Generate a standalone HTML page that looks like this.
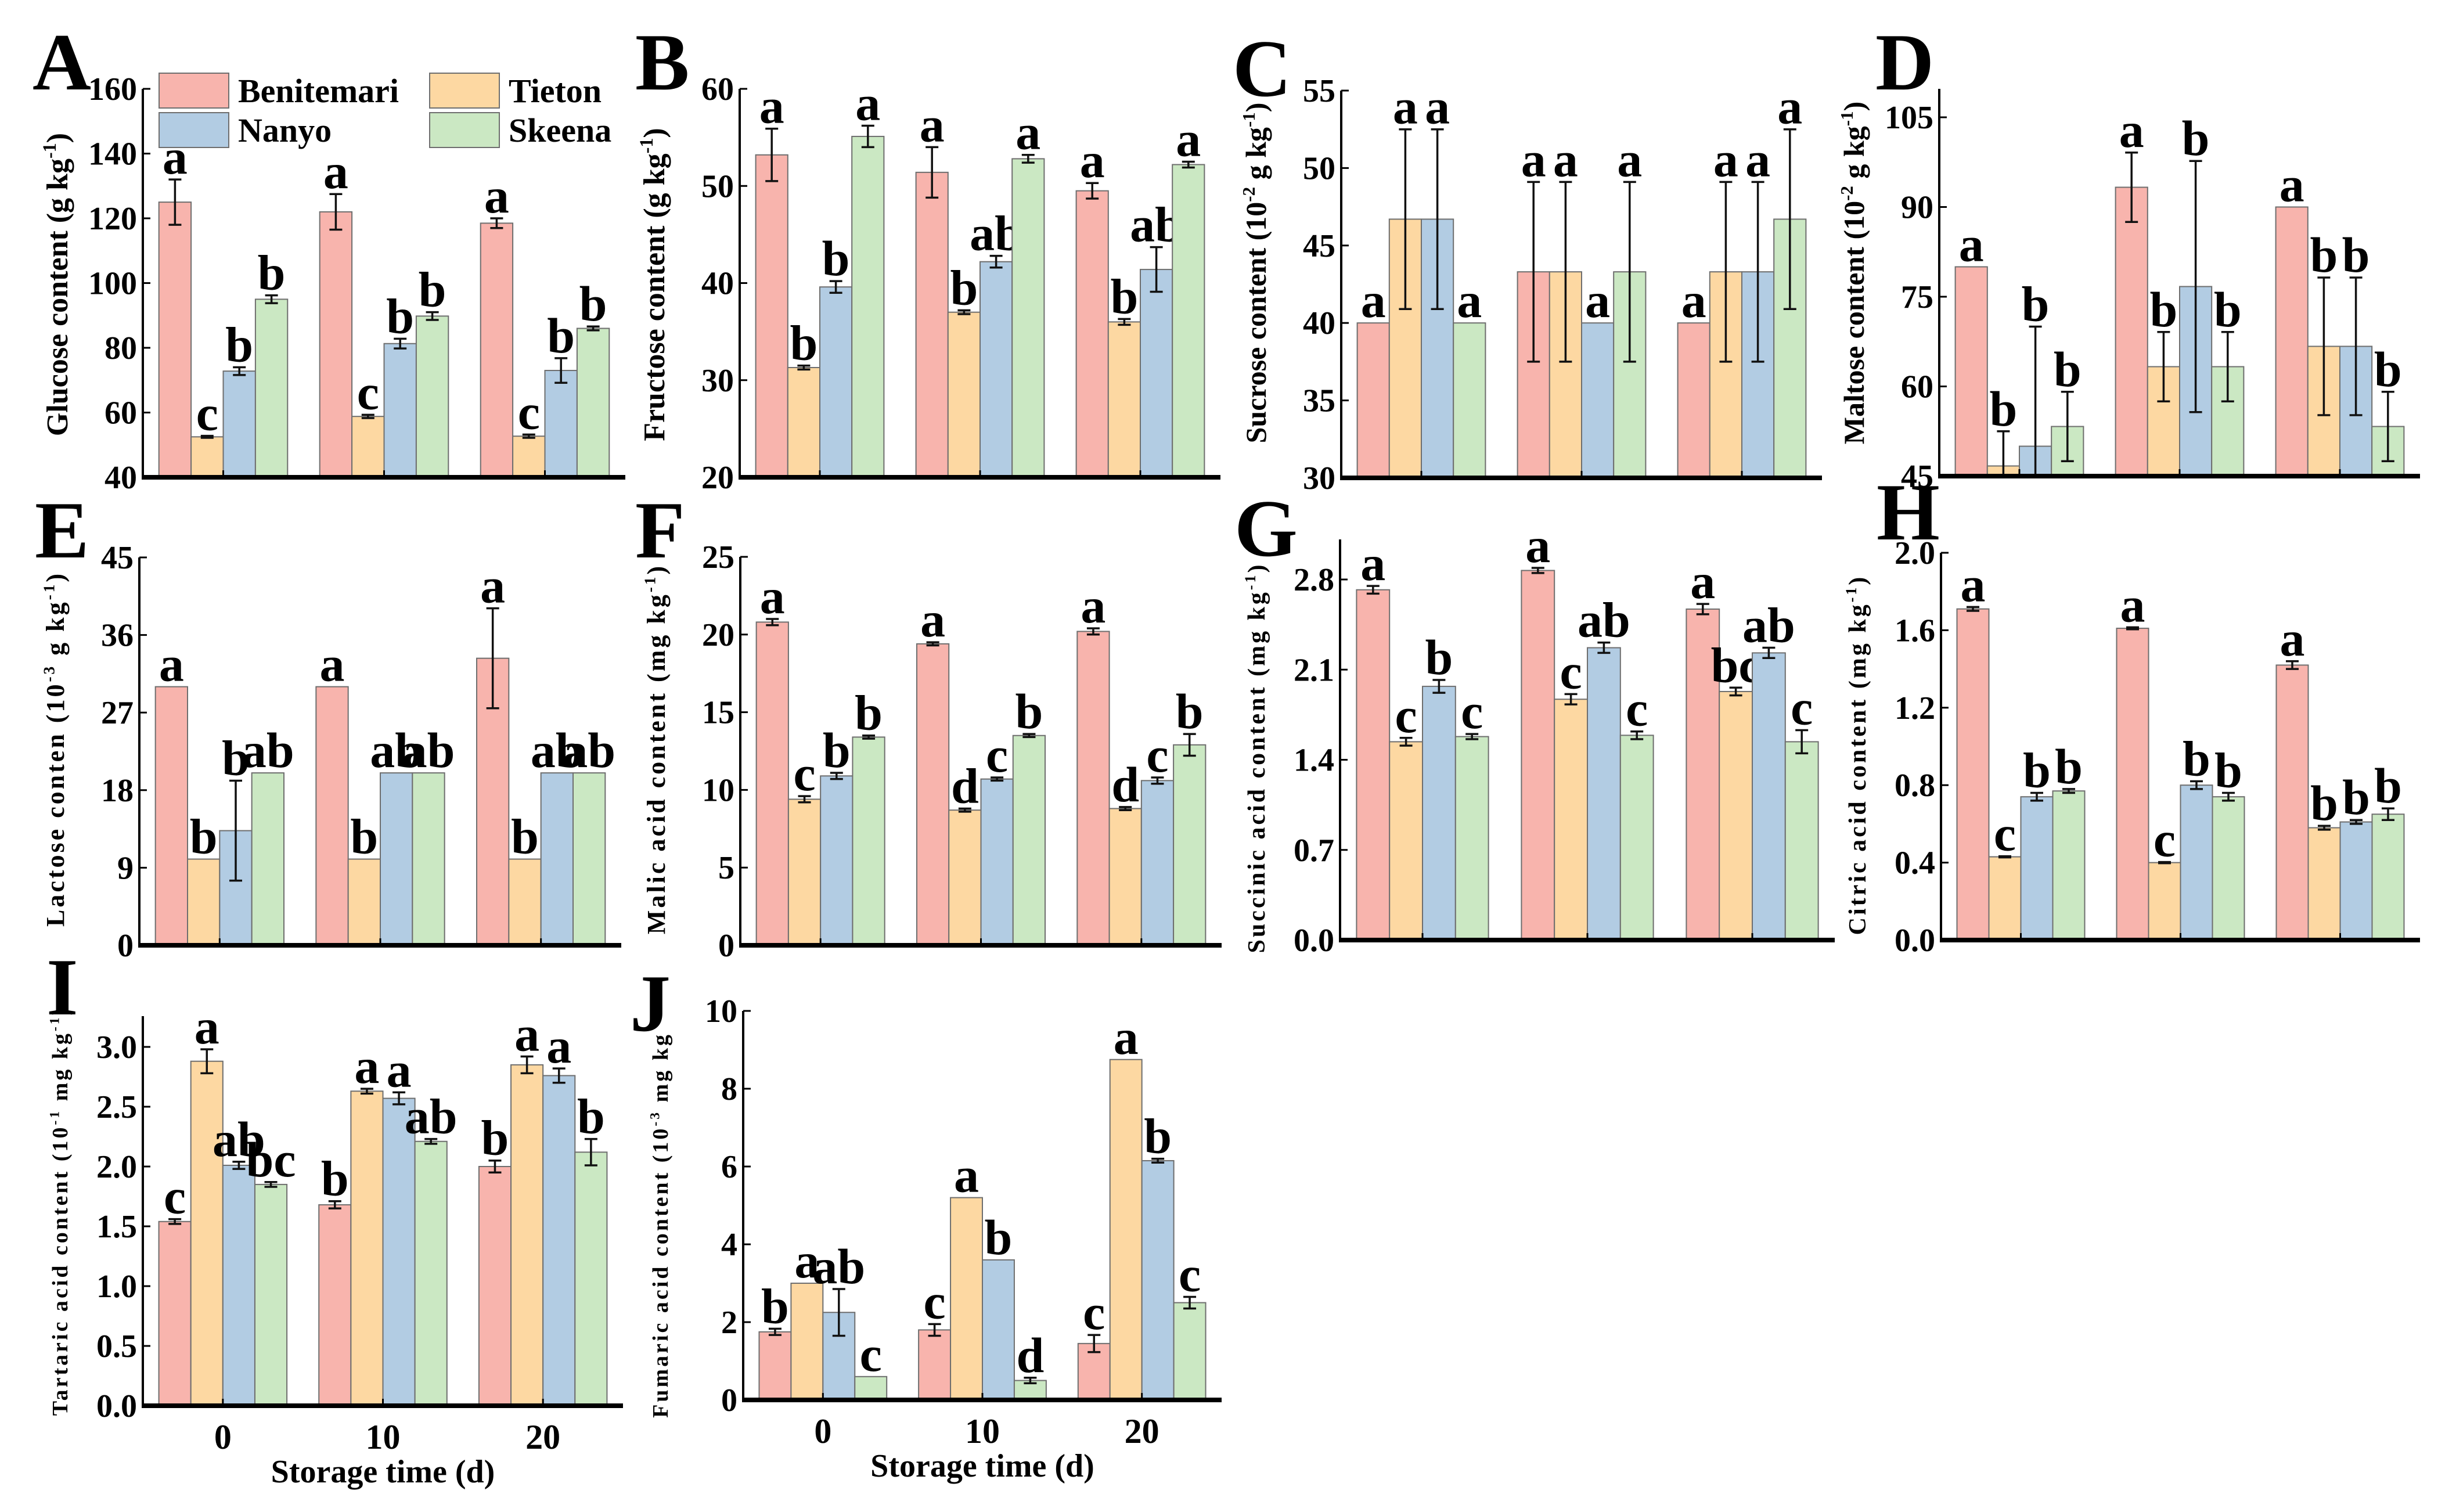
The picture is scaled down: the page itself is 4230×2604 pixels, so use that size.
<!DOCTYPE html>
<html><head><meta charset="utf-8">
<style>
html,body{margin:0;padding:0;background:#fff;}
svg{display:block;font-family:"Liberation Serif","Times New Roman",serif;font-weight:bold;}
</style></head>
<body>
<svg id="fig" width="4230" height="2604" viewBox="0 0 4230 2604" xmlns="http://www.w3.org/2000/svg"></svg>
<script>
// ---- data ----
const days = ['0', '10', '20'];
const cultivars = ['Benitemari', 'Tieton', 'Nanyo', 'Skeena'];

const glucoseMean = [[125,122,118.5],[52.5,58.8,52.7],[72.8,81.3,73],[95,89.8,86]];
const glucoseErr = [[7,5.5,1.5],[0.3,0.5,0.5],[1.2,1.5,3.8],[1.2,1.2,0.6]];
const glucoseSig = [['a','a','a'],['c','c','c'],['b','b','b'],['b','b','b']];

const fructoseMean = [[53.2,51.4,49.5],[31.3,37.0,36.0],[39.6,42.2,41.4],[55.1,52.8,52.2]];
const fructoseErr = [[2.7,2.6,0.8],[0.2,0.2,0.3],[0.6,0.6,2.3],[1.1,0.4,0.3]];
const fructoseSig = [['a','a','a'],['b','b','b'],['b','ab','ab'],['a','a','a']];

const sucroseMean = [[40,43.3,40],[46.7,43.3,43.3],[46.7,40,43.3],[40,43.3,46.7]];
const sucroseErr = [[0,5.8,0],[5.8,5.8,5.8],[5.8,0,5.8],[0,5.8,5.8]];
const sucroseSig = [['a','a','a'],['a','a','a'],['a','a','a'],['a','a','a']];

const maltoseMean = [[80,93.3,90],[46.7,63.3,66.7],[50,76.7,66.7],[53.3,63.3,53.3]];
const maltoseErr = [[0,5.8,0],[5.8,5.8,11.5],[20,21,11.5],[5.8,5.8,5.8]];
const maltoseSig = [['a','a','a'],['b','b','b'],['b','b','b'],['b','b','b']];

const lactoseMean = [[30,30,33.3],[10,10,10],[13.3,20,20],[20,20,20]];
const lactoseErr = [[0,0,5.8],[0,0,0],[5.8,0,0],[0,0,0]];
const lactoseSig = [['a','a','a'],['b','b','b'],['b','ab','ab'],['ab','ab','ab']];

const malicMean = [[20.8,19.4,20.2],[9.4,8.7,8.8],[10.9,10.7,10.6],[13.4,13.5,12.9]];
const malicErr = [[0.2,0.1,0.2],[0.2,0.1,0.1],[0.2,0.1,0.2],[0.1,0.1,0.7]];
const malicSig = [['a','a','a'],['c','d','d'],['b','c','c'],['b','b','b']];

const succinicMean = [[2.72,2.87,2.57],[1.54,1.87,1.93],[1.97,2.27,2.23],[1.58,1.59,1.54]];
const succinicErr = [[0.03,0.02,0.04],[0.03,0.04,0.03],[0.05,0.04,0.04],[0.02,0.03,0.09]];
const succinicSig = [['a','a','a'],['c','c','bc'],['b','ab','ab'],['c','c','c']];

const citricMean = [[1.71,1.61,1.42],[0.43,0.40,0.58],[0.74,0.80,0.61],[0.77,0.74,0.65]];
const citricErr = [[0.01,0.005,0.02],[0.003,0.003,0.01],[0.02,0.02,0.01],[0.01,0.02,0.03]];
const citricSig = [['a','a','a'],['c','c','b'],['b','b','b'],['b','b','b']];

const tartaricMean = [[1.54,1.68,2.0],[2.88,2.63,2.85],[2.01,2.57,2.76],[1.85,2.21,2.12]];
const tartaricErr = [[0.02,0.03,0.05],[0.1,0.02,0.07],[0.03,0.05,0.06],[0.02,0.02,0.11]];
const tartaricSig = [['c','b','b'],['a','a','a'],['ab','a','a'],['bc','ab','b']];

const fumaricMean = [[1.75,1.8,1.45],[3.0,5.2,8.75],[2.25,3.6,6.15],[0.6,0.5,2.5]];
const fumaricErr = [[0.08,0.15,0.22],[0,0,0],[0.6,0,0.05],[0,0.07,0.15]];
const fumaricSig = [['b','c','c'],['a','a','a'],['ab','b','b'],['c','d','c']];

const glucoseTicks = [40,60,80,100,120,140,160];
const fructoseTicks = [20,30,40,50,60];
const sucroseTicks = [30,35,40,45,50,55];
const maltoseTicks = [45,60,75,90,105];
const lactoseTicks = [0,9,18,27,36,45];
const malicTicks = [0,5,10,15,20,25];
const succinicTicks = ['0.0','0.7','1.4','2.1','2.8'];
const citricTicks = ['0.0','0.4','0.8','1.2','1.6','2.0'];
const tartaricTicks = ['0.0','0.5','1.0','1.5','2.0','2.5','3.0'];
const fumaricTicks = [0,2,4,6,8,10];

// ---- rendering ----
const NS = 'http://www.w3.org/2000/svg';
const svg = document.getElementById('fig');
const FILLS = ['#F8B4AD', '#FDD8A2', '#B2CCE3', '#CBE8C3'];

function mk(tag, attrs, parent) {
  const e = document.createElementNS(NS, tag);
  for (const k in attrs) e.setAttribute(k, attrs[k]);
  (parent || svg).appendChild(e);
  return e;
}

function drawPanel(p, means, errs, sigs, ticks) {
  const g = mk('g', {});
  
  
  const yScale = v => p.yB - (v - p.vMin) / (p.vRef - p.vMin) * (p.yB - p.yRef);
  const pitch = (p.x1 - p.x0) / 3;
  const bw = pitch * 0.8 / 4;

  for (let c = 0; c < 4; c++) {
    for (let d = 0; d < 3; d++) {
      const gx = p.x0 + pitch * (d + 0.5) - pitch * 0.4;
      const bx = gx + c * bw;
      const v = means[c][d];
      const yt = yScale(v);
      const r = mk('rect', {x: bx, y: yt, width: bw, height: p.yB - yt, fill: FILLS[c], stroke: '#6e6e6e', 'stroke-width': 2}, g);
      
      
      const e = errs[c][d];
      const cx = bx + bw / 2;
      let top = yt;
      if (e > 0) {
        const y1 = yScale(v + e);
        let y2 = yScale(v - e);
        top = y1;
        let dstr = `M${cx},${y1}V${Math.min(y2, p.yB)}M${cx-11},${y1}H${cx+11}`;
        if (y2 < p.yB - 4) dstr += `M${cx-11},${y2}H${cx+11}`;
        const eb = mk('path', {d: dstr, stroke: '#111', 'stroke-width': 3.5, fill: 'none'}, g);
        
        
      }
      const t = mk('text', {x: cx, y: top - 10, 'text-anchor': 'middle', 'font-size': 86, fill: '#000'}, g);
      t.textContent = sigs[c][d];
      
      
    }
  }
  const ya = mk('line', {x1: p.x0, y1: p.yTop, x2: p.x0, y2: p.yB, stroke: '#000', 'stroke-width': 4}, g);
  
  
  const xa = mk('line', {x1: p.x0 - 2, y1: p.yB, x2: p.x1, y2: p.yB, stroke: '#000', 'stroke-width': 8}, g);
  
  
  for (let d = 0; d < 3; d++) {
    const cx = p.x0 + pitch * (d + 0.5);
    mk('line', {x1: cx, y1: p.yB, x2: cx, y2: p.yB - 12, stroke: '#000', 'stroke-width': 3}, g);
  }
  ticks.forEach(tv => {
    const y = yScale(parseFloat(tv));
    mk('line', {x1: p.x0, y1: y, x2: p.x0 + 13, y2: y, stroke: '#000', 'stroke-width': 3}, g);
    const t = mk('text', {x: p.x0 - 10, y: y + 19, 'text-anchor': 'end', 'font-size': 56, fill: '#000'}, g);
    t.textContent = String(tv);
    
    
  });
  const tx = p.x0 - 130, ty = p.tyc;
  const tt = mk('text', {x: tx, y: ty, transform: `rotate(-90 ${tx} ${ty})`, 'text-anchor': 'middle', 'font-size': p.tfs, fill: '#000', 'letter-spacing': p.ls || 0}, g);
  
  
  let sup = false;
  p.title.forEach(part => {
    const isSup = part.startsWith('^');
    const txt = isSup ? part.slice(1) : part;
    const s = document.createElementNS(NS, 'tspan');
    if (isSup && !sup) { s.setAttribute('font-size', p.tfs * 0.62); s.setAttribute('dy', -p.tfs * 0.38); }
    if (!isSup && sup) { s.setAttribute('dy', p.tfs * 0.38); }
    if (isSup) s.setAttribute('font-size', p.tfs * 0.62);
    sup = isSup;
    s.textContent = txt;
    tt.appendChild(s);
  });
  const pl = mk('text', {x: p.lx, y: p.ly, 'font-size': 140, fill: '#000'}, g);
  pl.textContent = p.id;
  
  
  if (p.xlabels) {
    for (let d = 0; d < 3; d++) {
      const cx = p.x0 + pitch * (d + 0.5);
      const t = mk('text', {x: cx, y: p.yB + 74, 'text-anchor': 'middle', 'font-size': 60, fill: '#000'}, g);
      t.textContent = days[d];
      
      
    }
    const xt = mk('text', {x: (p.x0 + p.x1) / 2, y: p.yB + 132, 'text-anchor': 'middle', 'font-size': 56, fill: '#000'}, g);
    xt.textContent = 'Storage time (d)';
    
    
  }
}

drawPanel({id:'A', x0:246, x1:1077, yB:822, yTop:153, vMin:40, vRef:160, yRef:153, tfs:52, tyc:490, lx:56, ly:154, title:['Glucose content (g kg','^-1',')']}, glucoseMean, glucoseErr, glucoseSig, glucoseTicks);
drawPanel({id:'B', x0:1274, x1:2102, yB:822, yTop:153, vMin:20, vRef:60, yRef:153, tfs:52, tyc:490, lx:1094, ly:154, title:['Fructose content (g kg','^-1',')']}, fructoseMean, fructoseErr, fructoseSig, fructoseTicks);
drawPanel({id:'C', x0:2310, x1:3138, yB:823, yTop:156, vMin:30, vRef:55, yRef:156, tfs:50, tyc:470, lx:2123, ly:165, title:['Sucrose content (10','^-2',' g kg','^-1',')']}, sucroseMean, sucroseErr, sucroseSig, sucroseTicks);
drawPanel({id:'D', x0:3340, x1:4168, yB:820, yTop:153, vMin:45, vRef:105, yRef:202, tfs:50, tyc:470, lx:3230, ly:154, title:['Maltose content (10','^-2',' g kg','^-1',')']}, maltoseMean, maltoseErr, maltoseSig, maltoseTicks);
drawPanel({id:'E', x0:240, x1:1070, yB:1628, yTop:960, vMin:0, vRef:45, yRef:960, tfs:44, tyc:1290, lx:60, ly:960, ls:4, title:['Lactose conten (10','^-3',' g kg','^-1',')']}, lactoseMean, lactoseErr, lactoseSig, lactoseTicks);
drawPanel({id:'F', x0:1275, x1:2104, yB:1628, yTop:959, vMin:0, vRef:25, yRef:959, tfs:44, tyc:1290, lx:1094, ly:960, ls:4, title:['Malic acid content (mg kg','^-1',')']}, malicMean, malicErr, malicSig, malicTicks);
drawPanel({id:'G', x0:2308, x1:3160, yB:1619, yTop:929, vMin:0, vRef:2.8, yRef:998, tfs:42, tyc:1305, lx:2126, ly:957, ls:4, title:['Succinic acid content (mg kg','^-1',')']}, succinicMean, succinicErr, succinicSig, succinicTicks);
drawPanel({id:'H', x0:3343, x1:4168, yB:1619, yTop:952, vMin:0, vRef:2.0, yRef:952, tfs:42, tyc:1300, lx:3232, ly:929, ls:4, title:['Citric acid content (mg kg','^-1',')']}, citricMean, citricErr, citricSig, citricTicks);
drawPanel({id:'I', x0:246, x1:1073, yB:2421, yTop:1750, vMin:0, vRef:3.0, yRef:1803, tfs:38, tyc:2085, lx:80, ly:1747, ls:4, title:['Tartaric acid content (10','^-1',' mg kg','^-1',')'], xlabels:true}, tartaricMean, tartaricErr, tartaricSig, tartaricTicks);
drawPanel({id:'J', x0:1280, x1:2104, yB:2411, yTop:1741, vMin:0, vRef:10, yRef:1741, tfs:38, tyc:2110, lx:1085, ly:1775, ls:4, title:['Fumaric acid content (10','^-3',' mg kg'], xlabels:true}, fumaricMean, fumaricErr, fumaricSig, fumaricTicks);

const legend = mk('g', {});


const legPos = [[274,126],[740,126],[274,194],[740,194]];
cultivars.forEach((name, i) => {
  const [lx, ly] = legPos[i];
  const box = mk('rect', {x: lx, y: ly, width: 120, height: 60, fill: FILLS[i], stroke: '#6e6e6e', 'stroke-width': 2}, legend);
  
  
  const t = mk('text', {x: lx + 136, y: ly + 50, 'font-size': 58, fill: '#000'}, legend);
  t.textContent = name;
  
  
});
</script>
</body></html>
